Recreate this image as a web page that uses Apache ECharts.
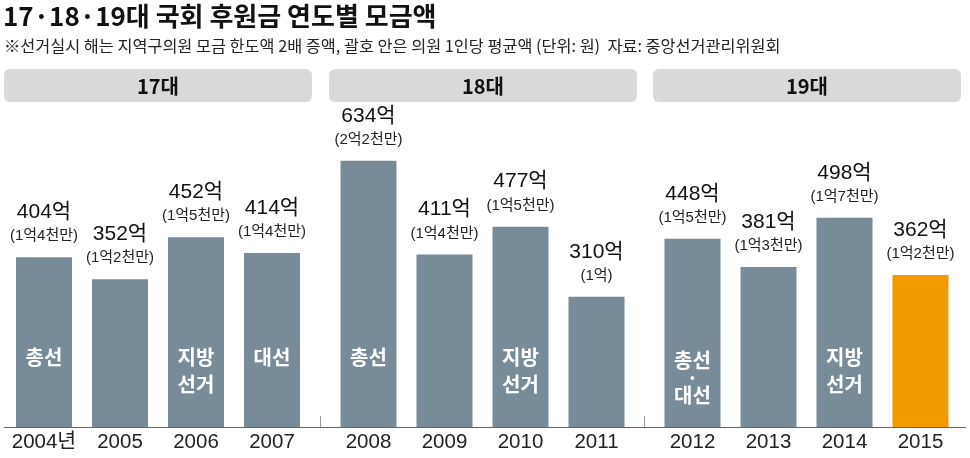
<!DOCTYPE html>
<html><head><meta charset="utf-8">
<script src="https://cdn.jsdelivr.net/npm/echarts@6/dist/echarts.min.js"></script>
<style>html,body{margin:0;padding:0;background:#fff}#c{width:970px;height:458px}</style>
</head><body><div id="c"></div>
<script>
const titleText = '17·18·19대 국회 후원금 연도별 모금액';
const subtitleText = '※선거실시 해는 지역구의원 모금 한도액 2배 증액, 괄호 안은 의원 1인당 평균액 (단위: 원)  자료: 중앙선거관리위원회';
const groups = ['17대', '18대', '19대'];
const categories = ['2004년', '2005', '2006', '2007', '2008', '2009', '2010', '2011', '2012', '2013', '2014', '2015'];
const values = [404, 352, 452, 414, 634, 411, 477, 310, 448, 381, 498, 362];
const perMember = ['1억4천만', '1억2천만', '1억5천만', '1억4천만', '2억2천만', '1억4천만', '1억5천만', '1억', '1억5천만', '1억3천만', '1억7천만', '1억2천만'];
const elections = ['총선', '', '지방\n선거', '대선', '총선', '', '지방\n선거', '', '총선\n·\n대선', '', '지방\n선거', ''];

const FONT = "'Liberation Sans', 'Noto Sans CJK KR', sans-serif";
const KFONT = "'Noto Sans CJK KR', 'Liberation Sans', sans-serif";
const BAR = '#778b98';
const HILITE = '#f39a00';
const gridLefts = [6, 330.5, 654.5];
const GW = 304;

const chart = echarts.init(document.getElementById('c'));
const grids = [], xAxes = [], yAxes = [], series = [], graphics = [];

graphics.push({ type: 'text', left: 3, top: 3, style: { text: titleText, font: 'bold 26px ' + KFONT, fill: '#111' } });
graphics.push({ type: 'text', left: 4, top: 38, style: { text: subtitleText, font: '16.3px ' + KFONT, fill: '#222' } });

groups.forEach((g, gi) => {
  const x0 = [4, 329, 653][gi];
  graphics.push({ type: 'rect', shape: { x: x0, y: 69, width: 308, height: 33, r: 6 }, style: { fill: '#d9d9d9' } });
  graphics.push({ type: 'text', x: x0 + 154, y: 86, style: { text: g, font: 'bold 20px ' + KFONT, fill: '#111', align: 'center', verticalAlign: 'middle' } });

  const s = gi * 4, e = s + 4;
  grids.push({ left: gridLefts[gi], width: GW, top: 133, bottom: 31 });
  xAxes.push({
    type: 'category', gridIndex: gi, data: categories.slice(s, e),
    axisLine: { show: false }, axisTick: { show: false },
    axisLabel: { interval: 0, fontSize: 20.5, color: '#222', fontFamily: FONT, margin: 5 }
  });
  yAxes.push({ type: 'value', gridIndex: gi, min: 0, max: 700, show: false, splitLine: { show: false } });

  series.push({
    type: 'bar', xAxisIndex: gi, yAxisIndex: gi, barWidth: 56, barGap: '-100%',
    data: values.slice(s, e).map((v, i) => ({
      value: v,
      itemStyle: { color: (s + i === values.length - 1) ? HILITE : BAR }
    })),
    label: {
      show: true, position: 'top', distance: 10,
      formatter: p => '{a|' + p.value + '억}\n{b|(' + perMember[s + p.dataIndex] + ')}',
      rich: {
        a: { fontSize: 21, lineHeight: 26, color: '#111', fontFamily: FONT },
        b: { fontSize: 15, lineHeight: 22, color: '#222', fontFamily: FONT }
      }
    },
    silent: true, animation: false
  });

  series.push({
    type: 'bar', xAxisIndex: gi, yAxisIndex: gi, barWidth: 56, barGap: '-100%',
    itemStyle: { color: 'rgba(0,0,0,0)' },
    data: values.slice(s, e).map((v, i) => {
      const t = elections[s + i];
      const n = t ? t.split('\n').length : 0;
      const lh = n === 3 ? 17.5 : 27;
      const dist = n === 1 ? 56.5 : (n === 2 ? 29.5 : 23);
      return {
        value: v,
        label: { show: !!t, formatter: t, distance: dist, lineHeight: lh }
      };
    }),
    label: { position: 'insideBottom', color: '#fff', fontSize: 20, fontWeight: 'bold', fontFamily: KFONT },
    silent: true, animation: false
  });
});

graphics.push({ type: 'line', shape: { x1: 4, y1: 427.5, x2: 966, y2: 427.5 }, style: { stroke: '#666', lineWidth: 1 } });
[320.5, 644.5].forEach(x => graphics.push({ type: 'line', shape: { x1: x, y1: 416, x2: x, y2: 427 }, style: { stroke: '#999', lineWidth: 1 } }));

chart.setOption({ animation: false, grid: grids, xAxis: xAxes, yAxis: yAxes, series: series, graphic: graphics });
</script></body></html>
